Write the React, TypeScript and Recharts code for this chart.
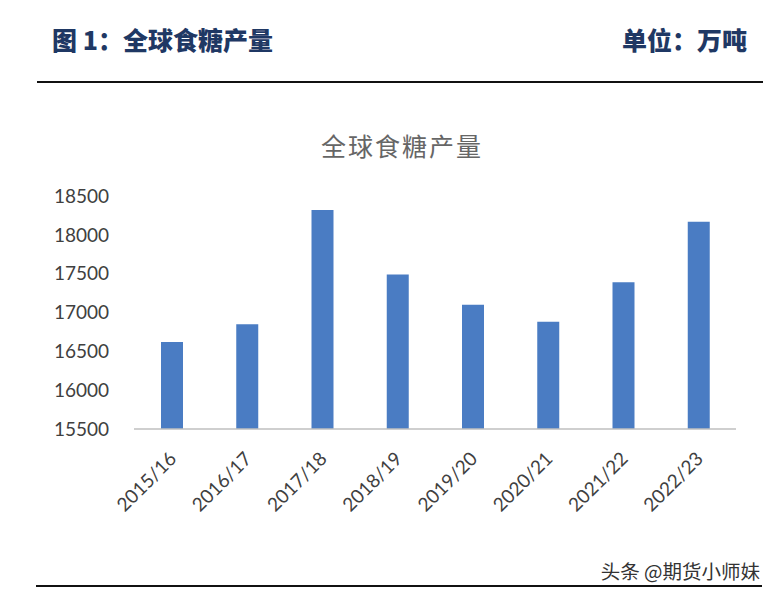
import { BarChart, Bar, XAxis, YAxis } from "recharts";

const seasons = ["2015/16", "2016/17", "2017/18", "2018/19", "2019/20", "2020/21", "2021/22", "2022/23"];
const production = [16620, 16850, 18320, 17490, 17100, 16880, 17390, 18170];
const yTicks = [15500, 16000, 16500, 17000, 17500, 18000, 18500];

const data = seasons.map((s, i) => ({ season: s, value: production[i] }));

const NUM_FONT = "Lato, 'Open Sans', sans-serif";
const CJK_FONT = "'Noto Sans CJK SC', 'Noto Sans', sans-serif";

function SeasonTick(props: any) {
  const { x, y, payload } = props;
  const tx = x + 6;
  const ty = y + 31;
  return (
    <text
      x={tx}
      y={ty}
      transform={`rotate(-45, ${tx}, ${ty})`}
      textAnchor="end"
      fill="#404040"
      fontSize={19}
      fontFamily={NUM_FONT}
    >
      {payload.value}
    </text>
  );
}

export default function App() {
  return (
    <div style={{ position: "absolute", left: 0, top: 0, width: 778, height: 598, background: "#fff" }}>
      {/* report header */}
      <div
        style={{
          position: "absolute",
          left: 52,
          top: 21,
          fontFamily: CJK_FONT,
          fontWeight: 900,
          fontSize: 25,
          color: "#1f3864",
          whiteSpace: "nowrap",
        }}
      >
        图 1：全球食糖产量
      </div>
      <div
        style={{
          position: "absolute",
          right: 31,
          top: 21,
          fontFamily: CJK_FONT,
          fontWeight: 900,
          fontSize: 25,
          color: "#1f3864",
          whiteSpace: "nowrap",
        }}
      >
        单位：万吨
      </div>
      <div style={{ position: "absolute", left: 37, top: 81, width: 726, height: 2, background: "#111" }} />

      {/* chart title */}
      <div
        style={{
          position: "absolute",
          left: 0,
          width: 804,
          top: 127,
          textAlign: "center",
          fontFamily: CJK_FONT,
          fontSize: 25,
          letterSpacing: 2,
          color: "#666",
          whiteSpace: "nowrap",
        }}
      >
        全球食糖产量
      </div>

      <div style={{ position: "absolute", left: 0, top: 0 }}>
        <BarChart width={778} height={598} data={data} margin={{ top: 196, right: 42, bottom: 0, left: 0 }}>
          <XAxis
            dataKey="season"
            height={169}
            interval={0}
            tickLine={false}
            tickSize={0}
            tickMargin={0}
            axisLine={{ stroke: "#bfbfbf", strokeWidth: 1.5 }}
            tick={<SeasonTick />}
          />
          <YAxis
            width={134}
            domain={[15500, 18500]}
            ticks={yTicks}
            allowDataOverflow
            axisLine={false}
            tickLine={false}
            tickMargin={19}
            tick={{ fill: "#404040", fontSize: 19, fontFamily: NUM_FONT }}
          />
          <Bar dataKey="value" fill="#4a7cc3" barSize={22} isAnimationActive={false} />
        </BarChart>
      </div>

      {/* footer */}
      <div style={{ position: "absolute", left: 36, top: 585, width: 726, height: 2, background: "#111" }} />
      <div
        style={{
          position: "absolute",
          right: 18,
          top: 556,
          fontFamily: CJK_FONT,
          fontSize: 19.5,
          color: "#333",
          whiteSpace: "nowrap",
          textShadow: "0 0 2px #fff",
        }}
      >
        头条 @期货小师妹
      </div>
    </div>
  );
}
